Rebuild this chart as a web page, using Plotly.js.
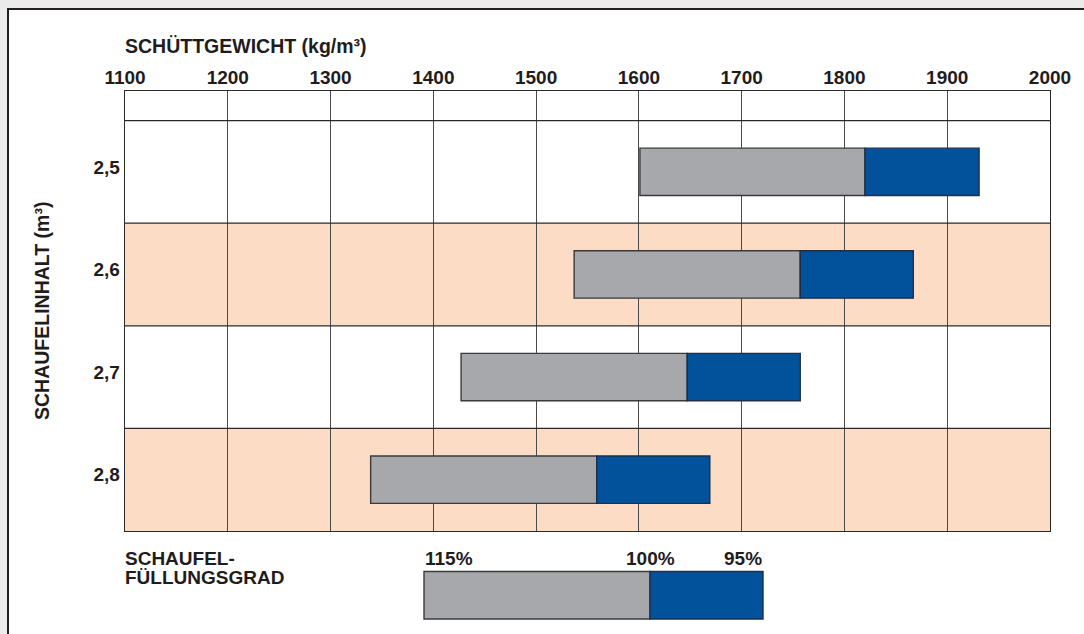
<!DOCTYPE html>
<html>
<head>
<meta charset="utf-8">
<script src="https://cdn.plot.ly/plotly-3.0.1.min.js"></script>
<style>
  html, body { margin: 0; padding: 0; width: 1084px; height: 634px; overflow: hidden; background: #ebebeb; font-family: "Liberation Sans", Arial, sans-serif; }
  #frame { position: absolute; left: 7px; top: 8px; width: 1120px; height: 700px; background: #ffffff; border-left: 2.5px solid #231f20; border-top: 2.5px solid #231f20; }
  #chart { position: absolute; left: 0; top: 0; width: 1084px; height: 634px; }
</style>
</head>
<body>
<div id="frame"></div>
<div id="chart"></div>
<script>
// ---- data ----
const bucketSizes = ['2,5', '2,6', '2,7', '2,8'];          // Schaufelinhalt (m³)
const density115 = [1601, 1537, 1427, 1339];               // Schüttgewicht at 115 % fill
const density100 = [1820, 1757, 1647, 1559];               // at 100 % fill
const density95  = [1931, 1867, 1757, 1669];               // at 95 % fill
const xTicks = [1100, 1200, 1300, 1400, 1500, 1600, 1700, 1800, 1900, 2000];
const fillLabels = ['115%', '100%', '95%'];

// ---- layout helpers (pixel -> paper) ----
const W = 1084, H = 634;
const M = { l: 125, r: 34, t: 91, b: 103 };
const PW = W - M.l - M.r, PH = H - M.t - M.b;
const px = x => (x - M.l) / PW;
const py = y => (H - M.b - y) / PH;

const ink = '#1f1c1d';
const grayFill = '#a7a8ab';
const blueFill = '#02529b';
const peach = '#fddcc5';
const outline = '#3a3a3c';
const fontB = { family: 'Liberation Sans, Arial, sans-serif', size: 19, color: ink, weight: 'bold' };
const fontT = { family: 'Liberation Sans, Arial, sans-serif', size: 19.5, color: ink, weight: 'bold' };

const grayTrace = {
  type: 'bar', orientation: 'h',
  y: bucketSizes,
  base: density115,
  x: density100.map((v, i) => v - density115[i]),
  width: 0.462,
  marker: { color: grayFill, line: { color: outline, width: 1.4 } },
  hoverinfo: 'skip', showlegend: false
};
const blueTrace = {
  type: 'bar', orientation: 'h',
  y: bucketSizes,
  base: density100,
  x: density95.map((v, i) => v - density100[i]),
  width: 0.462,
  marker: { color: blueFill, line: { color: '#1d2f4a', width: 1.4 } },
  hoverinfo: 'skip', showlegend: false
};

const shapes = [];
// peach bands for rows 2,6 and 2,8
[1, 3].forEach(i => shapes.push({
  type: 'rect', xref: 'x', yref: 'y', x0: xTicks[0], x1: xTicks[xTicks.length - 1],
  y0: i - 0.5, y1: i + 0.5, fillcolor: peach, line: { width: 0 }, layer: 'below'
}));
// horizontal row separators
[-0.5, 0.5, 1.5, 2.5].forEach(y => shapes.push({
  type: 'line', xref: 'paper', yref: 'y', x0: 0, x1: 1, y0: y, y1: y,
  line: { color: '#2a2a2a', width: 1.3 }
}));
// legend bar (fill degree key)
shapes.push({ type: 'rect', xref: 'paper', yref: 'paper', x0: px(424), x1: px(650), y0: py(619), y1: py(571.5),
  fillcolor: grayFill, line: { color: outline, width: 1.4 } });
shapes.push({ type: 'rect', xref: 'paper', yref: 'paper', x0: px(650), x1: px(763), y0: py(619), y1: py(571.5),
  fillcolor: blueFill, line: { color: '#1d2f4a', width: 1.4 } });

const annotations = [
  { text: 'SCHÜTTGEWICHT (kg/m³)', xref: 'paper', yref: 'paper', x: px(123), y: py(46),
    xanchor: 'left', yanchor: 'middle', showarrow: false, font: fontT },
  { text: 'SCHAUFELINHALT (m³)', xref: 'paper', yref: 'paper', x: px(42), y: py(311),
    xanchor: 'center', yanchor: 'middle', textangle: -90, showarrow: false, font: fontT },
  { text: 'SCHAUFEL-', xref: 'paper', yref: 'paper', x: px(123), y: py(558),
    xanchor: 'left', yanchor: 'middle', showarrow: false, font: fontB },
  { text: 'FÜLLUNGSGRAD', xref: 'paper', yref: 'paper', x: px(123), y: py(577),
    xanchor: 'left', yanchor: 'middle', showarrow: false, font: fontB },
  { text: fillLabels[0], xref: 'paper', yref: 'paper', x: px(423), y: py(558),
    xanchor: 'left', yanchor: 'middle', showarrow: false, font: fontB },
  { text: fillLabels[1], xref: 'paper', yref: 'paper', x: px(650), y: py(558),
    xanchor: 'center', yanchor: 'middle', showarrow: false, font: fontB },
  { text: fillLabels[2], xref: 'paper', yref: 'paper', x: px(764), y: py(558),
    xanchor: 'right', yanchor: 'middle', showarrow: false, font: fontB }
];

const layout = {
  width: W, height: H,
  margin: M,
  paper_bgcolor: 'rgba(0,0,0,0)',
  plot_bgcolor: '#ffffff',
  barmode: 'overlay',
  showlegend: false,
  font: fontB,
  xaxis: {
    side: 'top', range: [xTicks[0], xTicks[xTicks.length - 1]],
    tickmode: 'array', tickvals: xTicks, ticktext: xTicks.map(String),
    ticks: '', showgrid: true, gridcolor: '#4a4a4a', gridwidth: 1.2,
    zeroline: false, showline: true, mirror: true, linecolor: '#2a2a2a', linewidth: 1.3,
    ticklabelstandoff: -2,
    tickfont: fontB, fixedrange: true
  },
  yaxis: {
    type: 'category', categoryorder: 'array', categoryarray: bucketSizes,
    range: [3.5, -0.788],
    ticks: '', showgrid: false, zeroline: false,
    showline: true, mirror: true, linecolor: '#2a2a2a', linewidth: 1.3,
    ticklabelshift: 5,
    tickfont: fontB, fixedrange: true
  },
  shapes: shapes,
  annotations: annotations
};

Plotly.newPlot('chart', [grayTrace, blueTrace], layout, { staticPlot: true, displayModeBar: false });
</script>
</body>
</html>
